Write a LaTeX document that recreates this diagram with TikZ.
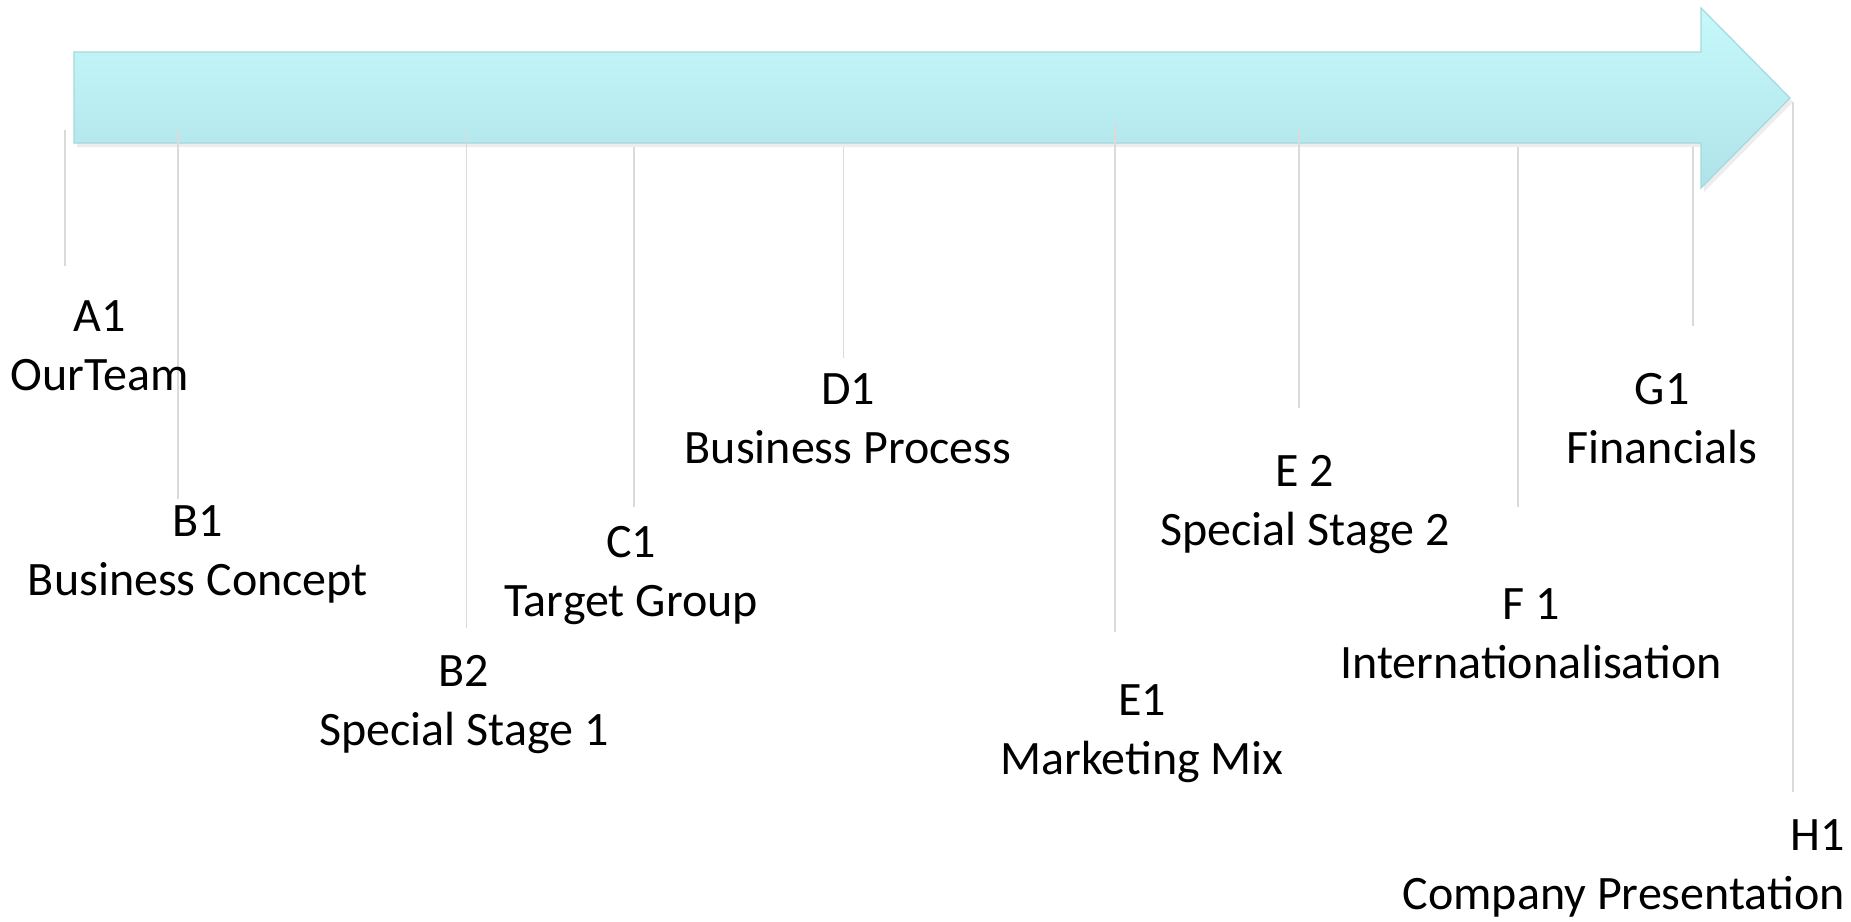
\documentclass[tikz,border=0pt]{standalone}
\usepackage{fontspec}
\setmainfont{Carlito}
\usepackage{tikz}
\definecolor{arrowtop}{HTML}{C6F9FB}
\definecolor{arrowbot}{HTML}{B0E3E8}
\definecolor{arrowline}{HTML}{A6D8DD}
\definecolor{tickgray}{HTML}{DADADA}
\tikzset{
  tick/.style={draw=tickgray, line width=0.8pt},
  lbl/.style={align=center, inner sep=0pt, font=\fontsize{24}{29.5}\selectfont}
}

\begin{document}
\begin{tikzpicture}[x=0.5pt, y=-0.5pt] % 1単位 = 1px
  \useasboundingbox (0,0) rectangle (1851,921); % 全体の大きさ

  \fill[black!7] (77,56) -- (1704,56) -- (1704,12) -- (1793,102) -- (1704,192) -- (1704,147) -- (77,147) -- cycle; % 影
  \draw[arrowline, line width=0.6pt, top color=arrowtop, bottom color=arrowbot]
    (74,52) -- (1701,52) -- (1701,8) -- (1790,98) -- (1701,188) -- (1701,143) -- (74,143) -- cycle; % 矢印

  % 補助線
  \foreach \n/\x/\ya/\yb in {a1/65/130/266, b1/178/130/499, b2/466.5/130/628, c1/634/147/507,
    d1/843.5/147/358, e1/1114.7/123/632, e2/1299/130/408, f1/1518/147/507, g1/1693/147/326, h1/1793/102/792}{
    \coordinate (\n top) at (\x,\ya);
    \coordinate (\n end) at (\x,\yb);
    \draw[tick] (\n top) -- (\n end);
  }

  \node[lbl] (a1) at (100,346) {A1\\OurTeam};
  \node[lbl] (b1) at (198,554) {B1\\Business Concept};
  \node[lbl] (b2) at (464,704.5) {B2\\Special Stage 1};
  \node[lbl] (c1) at (631,575.5) {C1\\Target Group};
  \node[lbl] (d1) at (848,418.5) {D1\\Business Process};
  \node[lbl] (e1) at (1142,734) {E1\\Marketing Mix};
  \node[lbl] (e2) at (1305,504.5) {E 2\\Special Stage 2};
  \node[lbl] (f1) at (1531,634) {F 1\\Internationalisation};
  \node[lbl] (g1) at (1662,418.5) {G1\\Financials};
  \node[lbl, align=right, anchor=east] (h1) at (1845,868) {H1\\Company Presentation}; % 右寄せ
\end{tikzpicture}
\end{document}
